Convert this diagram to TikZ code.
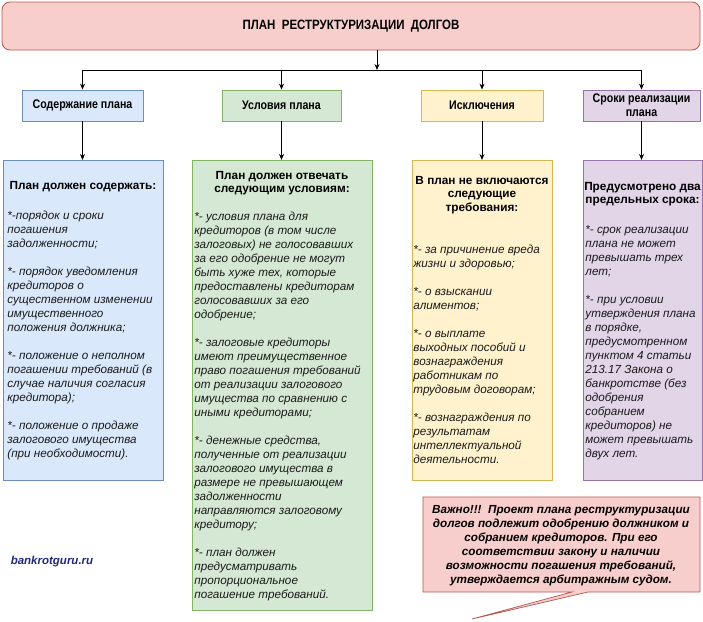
\documentclass[tikz,border=0pt]{standalone}
\usepackage{fontspec}
\setmainfont{Liberation Sans}
\newfontfamily\narrowfont[FakeStretch=0.85]{Liberation Sans}
\usetikzlibrary{arrows.meta}
\definecolor{redfill}{HTML}{F8CECC}   \definecolor{redline}{HTML}{B85450}
\definecolor{bluefill}{HTML}{DAE8FC}  \definecolor{blueline}{HTML}{6C8EBF}
\definecolor{greenfill}{HTML}{D5E8D4} \definecolor{greenline}{HTML}{82B366}
\definecolor{yellowfill}{HTML}{FFF2CC}\definecolor{yellowline}{HTML}{D6B656}
\definecolor{purplefill}{HTML}{E1D5E7}\definecolor{purpleline}{HTML}{9673A6}
\definecolor{bodytext}{HTML}{1A1A1A}
\definecolor{sitecolor}{HTML}{1F2A7A}
\begin{document}
\begin{tikzpicture}[x=1pt, y=-1pt, line width=0.8pt, >={Stealth[length=6pt,width=5pt]}]
% define node styles
\tikzset{
  box/.style      = {draw, rectangle, inner sep=0pt},
  headbox/.style  = {box, minimum height=31pt, font=\narrowfont\fontsize{12.5}{14}\selectfont\bfseries, align=center},
  textbox/.style  = {box, line width=0.6pt},
  caption/.style  = {font=\fontsize{11.8}{13.5}\selectfont\bfseries, align=center, inner sep=0pt},
  body/.style     = {font=\fontsize{11.7}{14}\selectfont\itshape, text=bodytext, align=left, inner sep=0pt, anchor=north west},
  arr/.style      = {->},
}
\useasboundingbox (0,0) rectangle (703,621);

% title
\node[box, rounded corners=8pt, fill=redfill, draw=redline, minimum width=698pt, minimum height=48pt,
      font=\narrowfont\fontsize{13.5}{15}\selectfont\bfseries] (title) at (351,26)
      {ПЛАН\ \ РЕСТРУКТУРИЗАЦИИ\ \ ДОЛГОВ};

% header boxes
\foreach \n/\x/\w/\c/\txt in {1/82.5/121/blue/{Содержание плана}, 2/281.5/119/green/{Условия плана},
                              3/482/122/yellow/{Исключения}, 4/641.5/117/purple/{Сроки реализации\\плана}}
    \node[headbox, fill=\c fill, draw=\c line, minimum width=\w] (h\n) at (\x,105.5) {\txt};

% content boxes
\foreach \n/\x/\w/\h/\c in {1/83/160/320/blue, 2/282/180/450/green, 3/482/140/320/yellow, 4/642.5/119/320/purple}
    \node[textbox, fill=\c fill, draw=\c line, minimum width=\w, minimum height=\h, anchor=north] (c\n) at (\x,160) {};

% edges
\coordinate (split) at (377,70);
\draw[arr] (title.south -| split) -- (split);
\draw (h1.north |- split) -- (h4.north |- split);
\foreach \n in {1,...,4} {
    \draw[arr] (h\n.north |- split) -- (h\n.north);
    \draw[arr] (h\n.south) -- (h\n.south |- c\n.north);
}

% texts of the content boxes
\node[caption] (cap1) at (83,187) {План должен содержать:};
\node[body] (txt1) at (7,211) {*-порядок и сроки\\погашения\\задолженности;\\[14pt]
  *- порядок уведомления\\кредиторов о\\существенном изменении\\имущественного\\положения должника;\\[14pt]
  *- положение о неполном\\погашении требований (в\\случае наличия согласия\\кредитора);\\[14pt]
  *- положение о продаже\\залогового имущества\\(при необходимости).};

\node[caption] (cap2) at (282,183) {План должен отвечать\\следующим условиям:};
\node[body] (txt2) at (194,212) {*- условия плана для\\кредиторов (в том числе\\залоговых) не голосовавших\\за его одобрение не могут\\быть хуже тех, которые\\предоставлены кредиторам\\голосовавших за его\\одобрение;\\[14pt]
  *- залоговые кредиторы\\имеют преимущественное\\право погашения требований\\от реализации залогового\\имущества по сравнению с\\иными кредиторами;\\[14pt]
  *- денежные средства,\\полученные от реализации\\залогового имущества в\\размере не превышающем\\задолженности\\направляются залоговому\\кредитору;\\[14pt]
  *- план должен\\предусматривать\\пропорциональное\\погашение требований.};

\node[caption] (cap3) at (482,195) {В план не включаются\\следующие\\требования:};
\node[body] (txt3) at (413,245) {*- за причинение вреда\\жизни и здоровью;\\[14pt]
  *- о взыскании\\алиментов;\\[14pt]
  *- о выплате\\выходных пособий и\\вознаграждения\\работникам по\\трудовым договорам;\\[14pt]
  *- вознаграждения по\\результатам\\интеллектуальной\\деятельности.};

\node[caption] (cap4) at (642.5,194) {Предусмотрено два\\предельных срока:};
\node[body] (txt4) at (585,225) {*- срок реализации\\плана не может\\превышать трех\\лет;\\[14pt]
  *- при условии\\утверждения плана\\в порядке,\\предусмотренном\\пунктом 4 статьи\\213.17 Закона о\\банкротстве (без\\одобрения\\собранием\\кредиторов) не\\может превышать\\двух лет.};

% callout
\draw[fill=redfill, draw=redline, line width=0.7pt] (423,497) -- (700,497) -- (700,592) -- (588,592)
    -- (472,619) -- (572,592) -- (423,592) -- cycle;
\node[caption, font=\fontsize{11.7}{14}\selectfont\bfseries\itshape] (note) at (561,546)
    {Важно!!!\ \ Проект плана реструктуризации\\долгов подлежит одобрению должником и\\собранием кредиторов. При его\\соответствии закону и наличии\\возможности погашения требований,\\утверждается арбитражным судом.};

% site name
\node[inner sep=0pt, font=\fontsize{11.5}{14}\selectfont\bfseries\itshape, text=sitecolor] (site) at (52,562) {bankrotguru.ru};
\end{tikzpicture}
\end{document}
